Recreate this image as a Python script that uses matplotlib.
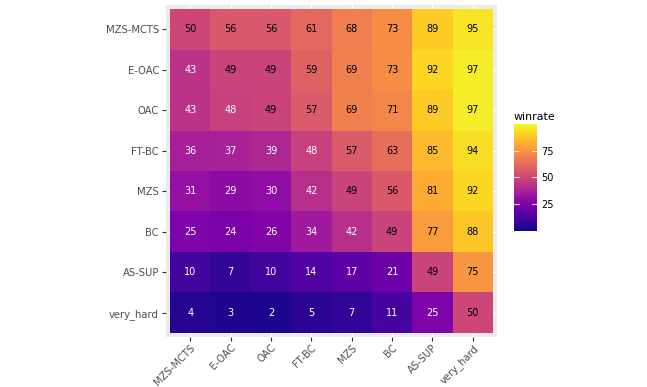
import matplotlib
matplotlib.use('Agg')
import matplotlib.pyplot as plt
import numpy as np

# Row / column labels (rows listed top to bottom)
rows = ['MZS-MCTS', 'E-OAC', 'OAC', 'FT-BC', 'MZS', 'BC', 'AS-SUP', 'very_hard']
cols = ['MZS-MCTS', 'E-OAC', 'OAC', 'FT-BC', 'MZS', 'BC', 'AS-SUP', 'very_hard']

# winrate per row (columns in order of cols)
mzs_mcts = [50, 56, 56, 61, 68, 73, 89, 95]
e_oac = [43, 49, 49, 59, 69, 73, 92, 97]
oac = [43, 48, 49, 57, 69, 71, 89, 97]
ft_bc = [36, 37, 39, 48, 57, 63, 85, 94]
mzs = [31, 29, 30, 42, 49, 56, 81, 92]
bc = [25, 24, 26, 34, 42, 49, 77, 88]
as_sup = [10, 7, 10, 14, 17, 21, 49, 75]
very_hard = [4, 3, 2, 5, 7, 11, 25, 50]

winrate = np.array([mzs_mcts, e_oac, oac, ft_bc, mzs, bc, as_sup, very_hard])

W, H = 647, 387
fig = plt.figure(figsize=(W / 100, H / 100), dpi=100)

def box(x0, y0, x1, y1):
    return [x0 / W, 1 - y1 / H, (x1 - x0) / W, (y1 - y0) / H]

ax = fig.add_axes(box(166, 5, 497, 337))
ax.set_facecolor('#EBEBEB')
cmap = plt.get_cmap('plasma')
norm = plt.Normalize(0, 100)

n = len(rows)
# y positions: top row at highest y
for i, r in enumerate(rows):
    y = n - 1 - i
    for j, c in enumerate(cols):
        v = winrate[i, j]
        ax.add_patch(plt.Rectangle((j - 0.5, y - 0.5), 1, 1, facecolor=cmap(norm(v)),
                                   edgecolor='none', zorder=2))
        ax.text(j, y, f'{v}', ha='center', va='center', fontsize=7,
                color='black' if v >= 49 else 'white', zorder=3)

ax.set_xlim(-0.6, n - 0.4)
ax.set_ylim(-0.6, n - 0.4)
ax.set_xticks(range(n))
ax.set_xticklabels(cols, rotation=45, ha='right', va='top', rotation_mode='anchor')
ax.set_yticks(range(n))
ax.set_yticklabels(rows[::-1])
ax.tick_params(length=3, width=0.8, color='#333333', labelcolor='#4D4D4D', labelsize=7.2, pad=2)
ax.tick_params(axis='x', pad=1)
ax.grid(True, color='white', linewidth=1.0, zorder=1)
ax.set_axisbelow(True)
for s in ax.spines.values():
    s.set_visible(False)

# colourbar drawn as a gradient strip
cax = fig.add_axes(box(514, 124, 537, 231))
grad = np.linspace(0, 100, 300).reshape(-1, 1)
cax.imshow(grad, cmap=cmap, norm=norm, aspect='auto', origin='lower', extent=[0, 1, 0, 100])
cax.set_xlim(0, 1)
cax.set_ylim(0, 100)
for t in [25, 50, 75]:
    cax.plot([0, 0.2], [t, t], color='white', lw=0.8, alpha=0.8)
    cax.plot([0.8, 1], [t, t], color='white', lw=0.8, alpha=0.8)
cax.set_xticks([])
cax.set_yticks([25, 50, 75])
cax.yaxis.tick_right()
cax.tick_params(axis='y', length=0, labelsize=7, labelcolor='black', pad=3)
for s in cax.spines.values():
    s.set_visible(False)
fig.text(514 / W, 1 - 117 / H, 'winrate', fontsize=7.9, ha='left', va='center')

fig.savefig('out.png', dpi=100, facecolor='white')
